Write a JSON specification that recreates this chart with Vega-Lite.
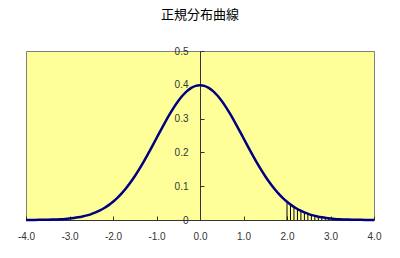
{
  "$schema": "https://vega.github.io/schema/vega-lite/v6.json",
  "width": 348,
  "height": 169,
  "autosize": {"type": "none"},
  "padding": {"left": 26, "top": 51, "right": 26, "bottom": 38},
  "background": "white",
  "title": {"text": "正規分布曲線", "font": "Noto Sans CJK JP", "fontSize": 13, "fontWeight": "normal", "color": "#000000", "offset": 24, "anchor": "middle"},
  "config": {
    "view": {"fill": "#FFFF99", "stroke": "#808080", "strokeWidth": 1},
    "axis": {"labelFont": "Liberation Sans", "labelFontSize": 10, "labelColor": "#333333", "domainColor": "#333333", "tickColor": "#333333", "grid": false, "title": null, "labelOverlap": false, "labelFlush": false, "labelBound": false}
  },
  "datasets": {
    "curve": [
      {"x": -4.0, "y": 0.00013}, {"x": -3.9, "y": 0.0002}, {"x": -3.8, "y": 0.00029}, {"x": -3.7, "y": 0.00042}, {"x": -3.6, "y": 0.00061},
      {"x": -3.5, "y": 0.00087}, {"x": -3.4, "y": 0.00123}, {"x": -3.3, "y": 0.00172}, {"x": -3.2, "y": 0.00238}, {"x": -3.1, "y": 0.00327},
      {"x": -3.0, "y": 0.00443}, {"x": -2.9, "y": 0.00595}, {"x": -2.8, "y": 0.00792}, {"x": -2.7, "y": 0.01042}, {"x": -2.6, "y": 0.01358},
      {"x": -2.5, "y": 0.01753}, {"x": -2.4, "y": 0.02239}, {"x": -2.3, "y": 0.02833}, {"x": -2.2, "y": 0.03547}, {"x": -2.1, "y": 0.04398},
      {"x": -2.0, "y": 0.05399}, {"x": -1.9, "y": 0.06562}, {"x": -1.8, "y": 0.07895}, {"x": -1.7, "y": 0.09405}, {"x": -1.6, "y": 0.11092},
      {"x": -1.5, "y": 0.12952}, {"x": -1.4, "y": 0.14973}, {"x": -1.3, "y": 0.17137}, {"x": -1.2, "y": 0.19419}, {"x": -1.1, "y": 0.21785},
      {"x": -1.0, "y": 0.24197}, {"x": -0.9, "y": 0.26609}, {"x": -0.8, "y": 0.28969}, {"x": -0.7, "y": 0.31225}, {"x": -0.6, "y": 0.33322},
      {"x": -0.5, "y": 0.35207}, {"x": -0.4, "y": 0.36827}, {"x": -0.3, "y": 0.38139}, {"x": -0.2, "y": 0.39104}, {"x": -0.1, "y": 0.39695},
      {"x": 0.0, "y": 0.39894},
      {"x": 0.1, "y": 0.39695}, {"x": 0.2, "y": 0.39104}, {"x": 0.3, "y": 0.38139}, {"x": 0.4, "y": 0.36827}, {"x": 0.5, "y": 0.35207},
      {"x": 0.6, "y": 0.33322}, {"x": 0.7, "y": 0.31225}, {"x": 0.8, "y": 0.28969}, {"x": 0.9, "y": 0.26609}, {"x": 1.0, "y": 0.24197},
      {"x": 1.1, "y": 0.21785}, {"x": 1.2, "y": 0.19419}, {"x": 1.3, "y": 0.17137}, {"x": 1.4, "y": 0.14973}, {"x": 1.5, "y": 0.12952},
      {"x": 1.6, "y": 0.11092}, {"x": 1.7, "y": 0.09405}, {"x": 1.8, "y": 0.07895}, {"x": 1.9, "y": 0.06562}, {"x": 2.0, "y": 0.05399},
      {"x": 2.1, "y": 0.04398}, {"x": 2.2, "y": 0.03547}, {"x": 2.3, "y": 0.02833}, {"x": 2.4, "y": 0.02239}, {"x": 2.5, "y": 0.01753},
      {"x": 2.6, "y": 0.01358}, {"x": 2.7, "y": 0.01042}, {"x": 2.8, "y": 0.00792}, {"x": 2.9, "y": 0.00595}, {"x": 3.0, "y": 0.00443},
      {"x": 3.1, "y": 0.00327}, {"x": 3.2, "y": 0.00238}, {"x": 3.3, "y": 0.00172}, {"x": 3.4, "y": 0.00123}, {"x": 3.5, "y": 0.00087},
      {"x": 3.6, "y": 0.00061}, {"x": 3.7, "y": 0.00042}, {"x": 3.8, "y": 0.00029}, {"x": 3.9, "y": 0.0002}, {"x": 4.0, "y": 0.00013}
    ],
    "hatch": [
      {"x": 2.00, "y": 0.05399}, {"x": 2.08, "y": 0.04588}, {"x": 2.16, "y": 0.03871}, {"x": 2.24, "y": 0.03247},
      {"x": 2.32, "y": 0.02705}, {"x": 2.40, "y": 0.02239}, {"x": 2.48, "y": 0.01842}, {"x": 2.56, "y": 0.01506},
      {"x": 2.64, "y": 0.01223}, {"x": 2.72, "y": 0.00987}, {"x": 2.80, "y": 0.00792}, {"x": 2.88, "y": 0.00631},
      {"x": 2.96, "y": 0.00499}
    ]
  },
  "encoding": {
    "x": {"field": "x", "type": "quantitative", "scale": {"domain": [-4, 4], "nice": false},
      "axis": {"values": [-4, -3, -2, -1, 0, 1, 2, 3, 4], "tickSize": -4, "labelPadding": 15, "labelExpr": "replace(format(datum.value, '.1f'), '\u2212', '-')"}},
    "y": {"field": "y", "type": "quantitative", "scale": {"domain": [0, 0.5], "nice": false},
      "axis": {"values": [0, 0.1, 0.2, 0.3, 0.4, 0.5], "offset": -174, "tickSize": -4, "labelPadding": 16, "labelExpr": "datum.value == 0 ? '0' : format(datum.value, '.1f')"}}
  },
  "layer": [
    {
      "data": {"name": "hatch"},
      "mark": {"type": "rule", "color": "#000000", "strokeWidth": 1},
      "encoding": {"y2": {"datum": 0}}
    },
    {
      "data": {"name": "curve"},
      "mark": {"type": "line", "color": "#000080", "strokeWidth": 2.5, "interpolate": "monotone"},
      "encoding": {}
    }
  ]
}
